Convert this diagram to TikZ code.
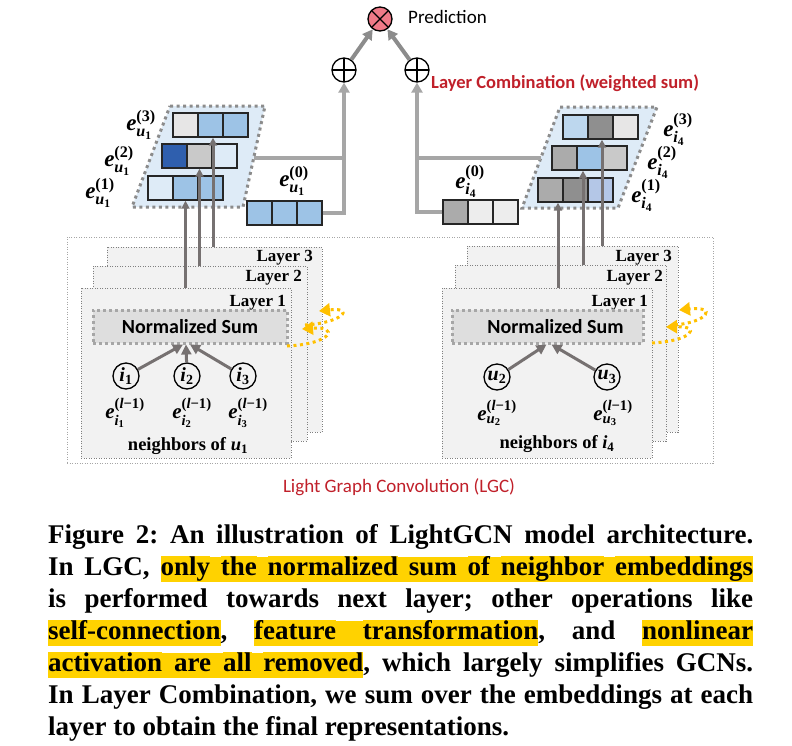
\documentclass[tikz,border=0pt]{standalone}
\usepackage{amsmath}
\usepackage{fontspec}
\usetikzlibrary{arrows.meta}
\setmainfont{Liberation Serif}
\newfontfamily\calibri{Carlito}
\definecolor{lgcred}{HTML}{C0202A}
\definecolor{hlyellow}{HTML}{FFD200}
\definecolor{loopyellow}{HTML}{FFC000}
\definecolor{arrowgray}{HTML}{767171}
\definecolor{combgray}{HTML}{A6A6A6}
\definecolor{predgray}{HTML}{8C8C8C}
\definecolor{predpink}{HTML}{F07A88}
\definecolor{cellblue}{HTML}{9DC3E6}
\definecolor{celllight}{HTML}{DEEBF7}
\definecolor{celldark}{HTML}{2F5FAE}
\definecolor{cellpale}{HTML}{BDD7EE}
\definecolor{cellviolet}{HTML}{B4C7E7}
\definecolor{graylight}{HTML}{E7E6E6}
\definecolor{graymid}{HTML}{C9C9C9}
\definecolor{graydark}{HTML}{8F8F8F}
\definecolor{grayone}{HTML}{ABABAB}
\definecolor{graywhite}{HTML}{EDEDED}
\newcommand{\bi}[1]{\textbf{\textit{#1}}}
% e with index letter #1, index number #2, layer #3
\newcommand{\emb}[3]{$\bi{e}^{\textbf{(#3)}}_{\bi{#1}_{\textbf{#2}}}$}
\newcommand{\idx}[2]{$\bi{#1}_{\textbf{#2}}$}
% one embedding = three cells, top-left corner at (#2,#3)
\newcommand{\embrow}[6]{%
  \node[cell,fill=#4] (#1-1) at (#2+12.5,#3+12) {};
  \node[cell,fill=#5] (#1-2) at (#2+37.5,#3+12) {};
  \node[cell,fill=#6] (#1-3) at (#2+62.5,#3+12) {};}
\newcommand{\hlw}[1]{{\fboxsep=0pt\colorbox{hlyellow}{\rule[-.26em]{0pt}{.93em}#1}}}
\newcommand{\hls}{{\color{hlyellow}\leaders\hrule height .67em depth .26em\hskip\fontdimen2\font plus\fontdimen3\font minus\fontdimen4\font}}

\begin{document}
\begin{tikzpicture}[x=1pt,y=-1pt]
  \tikzset{
    cell/.style={draw=black!85, line width=1.4pt, minimum width=25pt, minimum height=24pt, inner sep=0pt},
    lgcbox/.style={draw=black!35, line width=1pt, dash pattern=on 1pt off 1.5pt},
    layerbox/.style={draw=black!50, fill=black!5, line width=1pt, dash pattern=on 1pt off 1.5pt},
    stackbg/.style={draw=black!45, fill=celllight, line width=3pt, dash pattern=on 3pt off 3.5pt},
    normsum/.style={draw=black!35, fill=black!13, line width=3pt, dash pattern=on 3pt off 3pt, minimum height=33pt, inner sep=0pt, font=\calibri\bfseries\fontsize{20}{24}\selectfont},
    nbr/.style={circle, draw=black, line width=1.3pt, minimum size=26pt, inner sep=0pt, font=\fontsize{20}{20}\selectfont},
    opnode/.style={circle, draw=black, line width=1.3pt, minimum size=24pt, inner sep=0pt},
    aggr/.style={arrowgray, line width=3pt, -{Triangle[length=10pt,width=10pt]}},
    uplink/.style={arrowgray, line width=3pt, -{Triangle[length=8pt,width=8pt]}},
    combine/.style={combgray, line width=4pt},
    tocircle/.style={-{Triangle[length=10pt,width=11pt]}},
    topline/.style={predgray, line width=4pt, -{Triangle[length=10pt,width=11pt]}},
    looparrow/.style={loopyellow, line width=3pt, dash pattern=on 3pt off 3.5pt, -{Triangle[length=11pt,width=13pt]}},
    layertext/.style={anchor=base east, inner sep=0pt, font=\bfseries\fontsize{17}{20}\selectfont},
    emblabel/.style={inner sep=0pt, font=\fontsize{23}{24}\selectfont},
    prevlabel/.style={inner sep=0pt, font=\fontsize{21}{22}\selectfont},
    nbrtext/.style={inner sep=0pt, font=\bfseries\fontsize{18.5}{22}\selectfont},
    redtext/.style={inner sep=0pt, text=lgcred, font=\calibri\fontsize{19}{22}\selectfont},
    capline/.style={anchor=base west, inner sep=0pt, font=\frenchspacing\bfseries\fontsize{27}{32}\selectfont}
  }
  \useasboundingbox (0,0) rectangle (792,745);

  % light graph convolution
  \node[lgcbox, minimum width=646pt, minimum height=226pt] (lgc) at (390,350) {};
  \node[layerbox, minimum width=215pt, minimum height=185pt] (layL3) at (214.5,339.5) {};
  \node[layerbox, minimum width=214pt, minimum height=175pt] (layL2) at (200,353.5) {};
  \node[layerbox, minimum width=210pt, minimum height=170pt] (layL1) at (186,373) {};
  \node[layerbox, minimum width=211pt, minimum height=186pt] (layR3) at (572.5,339) {};
  \node[layerbox, minimum width=211pt, minimum height=176pt] (layR2) at (560.5,353) {};
  \node[layerbox, minimum width=210pt, minimum height=170pt] (layR1) at (547,373) {};
  \node[layertext] (txtL3) at (313,261) {Layer 3};
  \node[layertext] (txtL2) at (302,281) {Layer 2};
  \node[layertext] (txtL1) at (286,306) {Layer 1};
  \node[layertext] (txtR3) at (672,261) {Layer 3};
  \node[layertext] (txtR2) at (663,281) {Layer 2};
  \node[layertext] (txtR1) at (648,306) {Layer 1};

  \node[normsum, minimum width=194pt] (nsL) at (190,326.5) {Normalized Sum};
  \node[normsum, minimum width=191pt] (nsR) at (547.5,326.5) {\hspace*{16pt}Normalized Sum};

  \node[nbr] (i1) at (126,376) {\idx{i}{1}};
  \node[nbr] (i2) at (187,376) {\idx{i}{2}};
  \node[nbr] (i3) at (243,376) {\idx{i}{3}};
  \node[nbr] (u2) at (497,377) {\idx{u}{2}};
  \node[nbr] (u3) at (607,377) {\idx{u}{3}};
  \draw[aggr] (i1) -- ([xshift=-7pt]nsL.south);
  \draw[aggr] (i2) -- ([xshift=-4pt]nsL.south);
  \draw[aggr] (i3) -- (nsL.south);
  \draw[aggr] (u2) -- ([xshift=-1pt]nsR.south);
  \draw[aggr] (u3) -- ([xshift=4pt]nsR.south);

  \node[prevlabel] (ei1) at (125,413) {\emb{i}{1}{\textit{l}−1}};
  \node[prevlabel] (ei2) at (192,413) {\emb{i}{2}{\textit{l}−1}};
  \node[prevlabel] (ei3) at (248,413) {\emb{i}{3}{\textit{l}−1}};
  \node[prevlabel] (eu2) at (497,413) {\emb{u}{2}{\textit{l}−1}};
  \node[prevlabel] (eu3) at (613,413) {\emb{u}{3}{\textit{l}−1}};
  \node[nbrtext] (nbrL) at (188,446) {neighbors of \idx{u}{1}};
  \node[nbrtext] (nbrR) at (557,444) {neighbors of \idx{i}{4}};

  % yellow loops between layers
  \coordinate (loopLa) at (287,346);
  \coordinate (loopLb) at (302,329);
  \coordinate (loopLc) at (305,325);
  \coordinate (loopLd) at (319,311);
  \draw[looparrow] (loopLa) .. controls (332,344) and (340,326) .. (loopLb);
  \draw[looparrow] (loopLc) .. controls (342,323) and (356,307) .. (loopLd);
  \coordinate (loopRa) at (652,343);
  \coordinate (loopRb) at (666,327);
  \coordinate (loopRc) at (675,325);
  \coordinate (loopRd) at (679,310);
  \draw[looparrow] (loopRa) .. controls (692,341) and (702,326) .. (loopRb);
  \draw[looparrow] (loopRc) .. controls (708,322) and (718,306) .. (loopRd);

  \node[redtext] (lgctitle) at (399,487) {Light Graph Convolution (LGC)};

  % layer stacks
  \draw[stackbg] (170,106) -- (265,106) -- (243,207) -- (132,207) -- cycle;
  \draw[stackbg] (560,107) -- (657,107) -- (618,208) -- (522,208) -- cycle;
  \embrow{uL3}{173}{113}{graylight}{cellblue}{cellblue}
  \embrow{uL2}{162}{144}{celldark}{graymid}{celllight}
  \embrow{uL1}{148}{176}{celllight}{cellblue}{cellblue}
  \embrow{iR3}{563}{115}{cellpale}{graydark}{graylight}
  \embrow{iR2}{552}{146}{grayone}{cellblue}{graymid}
  \embrow{iR1}{538}{178}{grayone}{graydark}{cellviolet}
  \embrow{eu0}{247}{201}{cellblue}{cellblue}{cellblue}
  \embrow{ei0}{443}{200}{grayone}{graywhite}{graywhite}

  \draw[uplink] (uL1-2.south |- layL1.north) -- (uL1-2.south);
  \draw[uplink] (uL2-2.south |- layL2.north) -- (uL2-2.south);
  \coordinate (upL3) at ([xshift=2.5pt]uL3-2.south);
  \draw[uplink] (upL3 |- layL3.north) -- (upL3);
  \coordinate (upR1) at ([xshift=7.5pt]iR1-1.south);
  \coordinate (upR2) at ([xshift=-6.5pt]iR2-2.south);
  \coordinate (upR3) at ([xshift=1.5pt]iR3-2.south);
  \draw[uplink] (upR1 |- layR1.north) -- (upR1);
  \draw[uplink] (upR2 |- layR2.north) -- (upR2);
  \draw[uplink] (upR3 |- layR3.north) -- (upR3);

  \node[emblabel] (lu3) at (141,125) {\emb{u}{1}{3}};
  \node[emblabel] (lu2) at (119,161) {\emb{u}{1}{2}};
  \node[emblabel] (lu1) at (100,193) {\emb{u}{1}{1}};
  \node[emblabel] (lu0) at (294,181) {\emb{u}{1}{0}};
  \node[emblabel] (li3) at (678,129) {\emb{i}{4}{3}};
  \node[emblabel] (li2) at (662,162) {\emb{i}{4}{2}};
  \node[emblabel] (li1) at (646,195) {\emb{i}{4}{1}};
  \node[emblabel] (li0) at (470,181) {\emb{i}{4}{0}};

  % layer combination
  \node[opnode, fill=white, path picture={
      \draw[line width=1.3pt] (path picture bounding box.north) -- (path picture bounding box.south);
      \draw[line width=1.3pt] (path picture bounding box.west) -- (path picture bounding box.east);}] (oplusL) at (344,70) {};
  \node[opnode, fill=white, path picture={
      \draw[line width=1.3pt] (path picture bounding box.north) -- (path picture bounding box.south);
      \draw[line width=1.3pt] (path picture bounding box.west) -- (path picture bounding box.east);}] (oplusR) at (417,70) {};
  \node[opnode, fill=predpink, path picture={
      \draw[line width=1.3pt] (path picture bounding box.north west) -- (path picture bounding box.south east);
      \draw[line width=1.3pt] (path picture bounding box.north east) -- (path picture bounding box.south west);}] (pred) at (380,19) {};
  \node[anchor=west, inner sep=0pt, font=\calibri\fontsize{19}{22}\selectfont] (predtext) at (408,17) {Prediction};
  \node[redtext, anchor=west, font=\calibri\bfseries\fontsize{18.5}{22}\selectfont] (combtext) at (431,83) {Layer Combination (weighted sum)};

  \coordinate (stackLout) at (254,158);
  \coordinate (stackRin) at (541,158);
  \draw[combine] (stackLout) -- (stackLout -| oplusL);
  \draw[combine, tocircle] (eu0-3.east) -| (oplusL.south);
  \draw[combine] (stackRin) -- (stackRin -| oplusR);
  \draw[combine, tocircle] (ei0-1.west) -| (oplusR.south);
  \draw[topline] (oplusL) -- (pred);
  \draw[topline] (oplusR) -- (pred);

  % caption
  \node[capline] (cap1) at (48,543) {\makebox[705pt][s]{Figure 2: An illustration of LightGCN model architecture.}};
  \node[capline] (cap2) at (48,575) {\makebox[705pt][s]{In LGC, \hlw{only}\hls\hlw{the}\hls\hlw{normalized}\hls\hlw{sum}\hls\hlw{of}\hls\hlw{neighbor}\hls\hlw{embeddings}}};
  \node[capline] (cap3) at (48,607) {\makebox[705pt][s]{is performed towards next layer; other operations like}};
  \node[capline] (cap4) at (48,639) {\makebox[705pt][s]{\hlw{self-connection}, \hlw{feature}\hls\hlw{transformation}, and \hlw{nonlinear}}};
  \node[capline] (cap5) at (48,671) {\makebox[705pt][s]{\hlw{activation}\hls\hlw{are}\hls\hlw{all}\hls\hlw{removed}, which largely simplifies GCNs.}};
  \node[capline] (cap6) at (48,703) {\makebox[705pt][s]{In Layer Combination, we sum over the embeddings at each}};
  \node[capline] (cap7) at (48,735) {layer to obtain the final representations.};
\end{tikzpicture}
\end{document}
